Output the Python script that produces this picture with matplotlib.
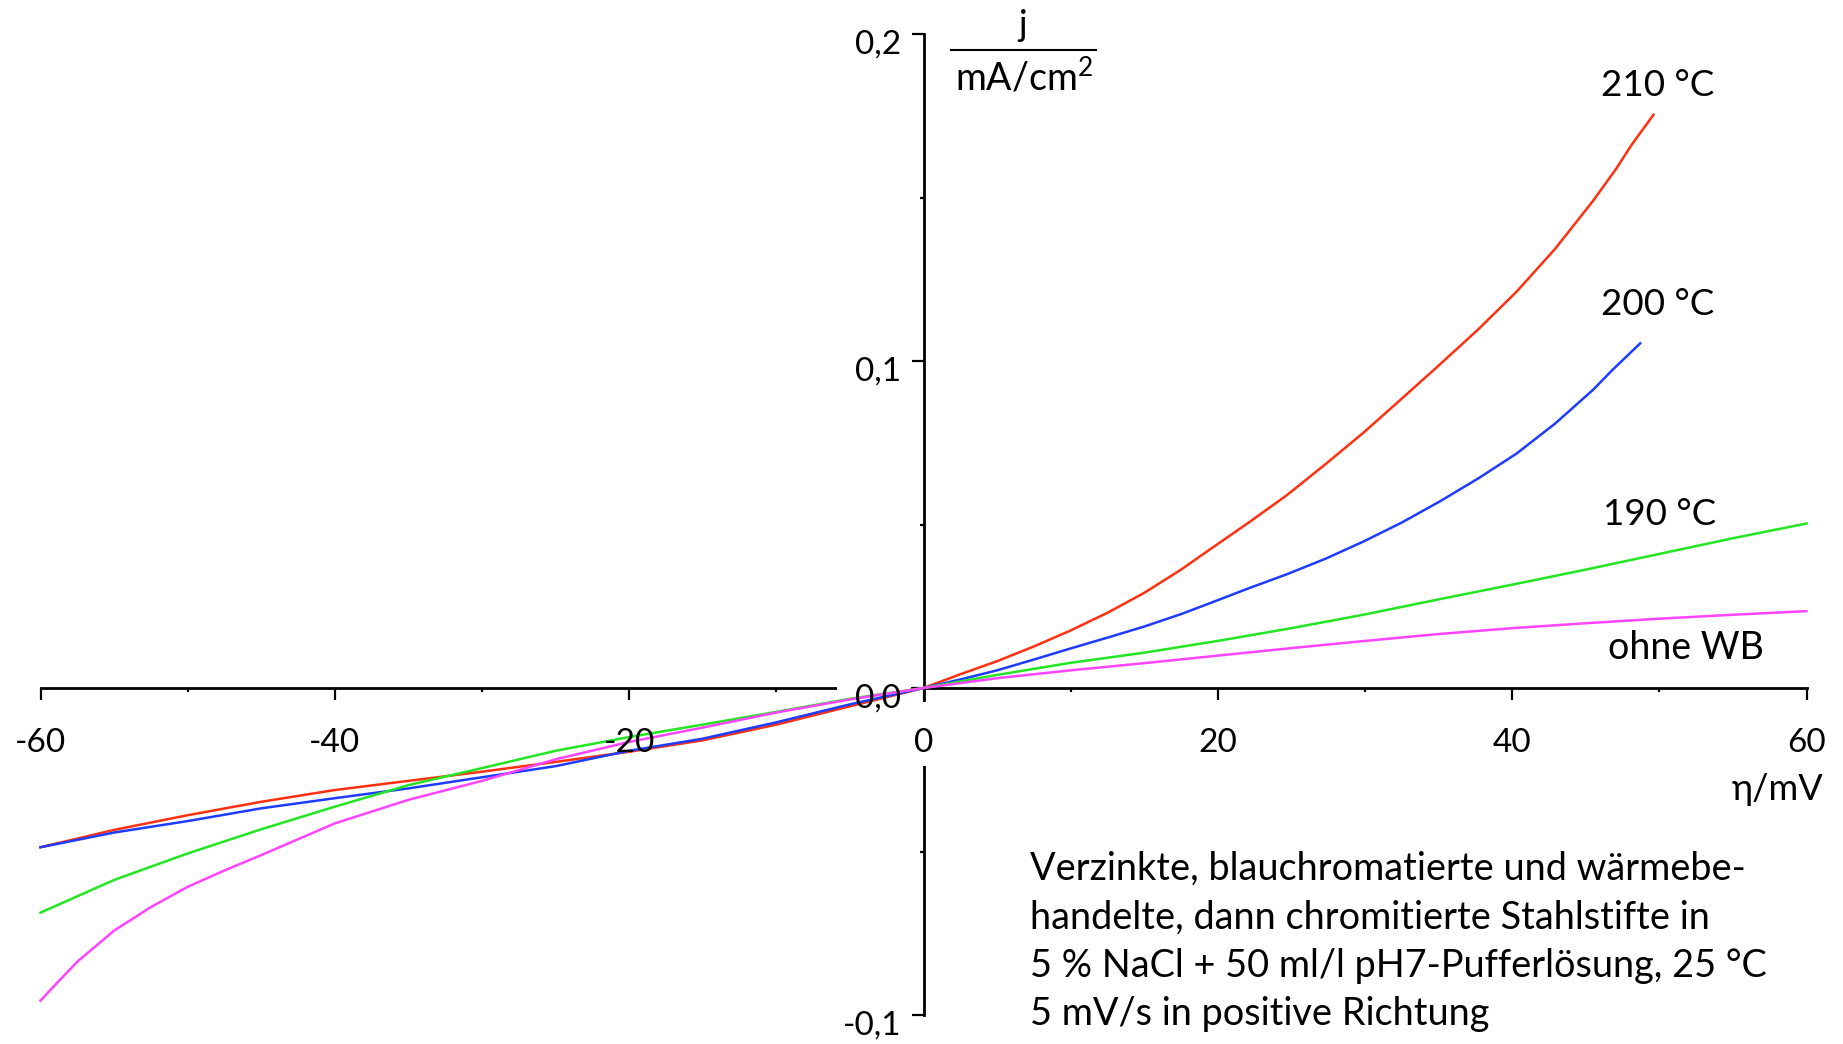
import matplotlib
matplotlib.use('Agg')
import matplotlib.pyplot as plt
from matplotlib.lines import Line2D
from matplotlib.patches import Rectangle

plt.rcParams['font.family'] = ['Lato', 'DejaVu Sans']
plt.rcParams['mathtext.fontset'] = 'custom'
plt.rcParams['mathtext.rm'] = 'Lato'

# overpotential eta (mV) and current density j (mA/cm2) for each sample
eta_210 = [-60, -55, -50, -45, -40, -35, -30, -25, -20, -15, -10, -5, 0,
           2.5, 5, 7.5, 10, 12.5, 15, 17.5, 19.5, 22.1, 24.7, 27.3, 29.9, 32.5,
           35.1, 37.7, 40.3, 42.9, 45.5, 47.1, 48.1, 49.6]
j_210 = [-0.0487, -0.0434, -0.0389, -0.0348, -0.0312, -0.0284, -0.0256, -0.0226,
         -0.0195, -0.0160, -0.0112, -0.0056, 0.0,
         0.0042, 0.0082, 0.0127, 0.0176, 0.0230, 0.0291, 0.0362, 0.0425, 0.0506, 0.0590,
         0.0684, 0.0781, 0.0885, 0.0990, 0.1097, 0.1212, 0.1342, 0.1490, 0.1590, 0.1660, 0.1753]

eta_200 = [-60, -55, -50, -45, -40, -35, -30, -25, -20, -15, -10, -5, 0,
           2.5, 5, 7.5, 10, 12.5, 15, 17.5, 19.5, 22.1, 24.7, 27.3, 29.9, 32.5,
           35.1, 37.7, 40.3, 42.9, 45.5, 46.8, 48.7]
j_200 = [-0.0487, -0.0442, -0.0407, -0.0368, -0.0337, -0.0307, -0.0273, -0.0239,
         -0.0192, -0.0155, -0.0105, -0.0050, 0.0,
         0.0026, 0.0054, 0.0087, 0.0121, 0.0154, 0.0188, 0.0226, 0.0260, 0.0305, 0.0348,
         0.0395, 0.0448, 0.0506, 0.0571, 0.0641, 0.0717, 0.0808, 0.0912, 0.0972, 0.1054]

eta_190 = [-60, -55, -50, -45, -40, -35, -30, -25, -20, -15, -10, -5, 0,
           5, 10, 15, 20, 25, 30, 35, 40, 45, 50, 55, 60]
j_190 = [-0.0687, -0.0587, -0.0506, -0.0432, -0.0363, -0.0297, -0.0245, -0.0192,
         -0.0150, -0.0112, -0.0073, -0.0033, 0.0,
         0.0040, 0.0077, 0.0108, 0.0144, 0.0183, 0.0225, 0.0271, 0.0316, 0.0362, 0.0410,
         0.0458, 0.0503]

eta_ohne = [-60, -58.9, -57.5, -55, -52.5, -50, -47.5, -45, -40, -35, -30, -25, -20,
            -15, -10, -5, 0, 5, 10, 15, 20, 25, 30, 35, 40, 45, 50, 55, 60]
j_ohne = [-0.0956, -0.0903, -0.0837, -0.0742, -0.0670, -0.0608, -0.0558, -0.0511,
          -0.0414, -0.0342, -0.0284, -0.0218, -0.0165, -0.0121, -0.0075, -0.0035, 0.0,
          0.0030, 0.0054, 0.0076, 0.0099, 0.0122, 0.0144, 0.0165, 0.0183, 0.0198, 0.0212,
          0.0224, 0.0235]

x_ticks = [-60, -40, -20, 0, 20, 40, 60]
y_ticks = [-0.1, 0.0, 0.1, 0.2]
y_labels = ['-0,1', '0,0', '0,1', '0,2']

W, H = 1843, 1044
fig = plt.figure(figsize=(W / 100, H / 100), dpi=100)
fig.patch.set_facecolor('white')
ax = fig.add_axes([40.5 / W, 29 / H, 1766 / W, 981 / H])
ax.set_xlim(-60, 60)
ax.set_ylim(-0.1, 0.2)

for s in ['top', 'right']:
    ax.spines[s].set_visible(False)
for s in ['left', 'bottom']:
    ax.spines[s].set_position(('data', 0))
    ax.spines[s].set_linewidth(2.0)
    ax.spines[s].set_zorder(1)

ax.set_xticks(x_ticks)
ax.set_xticks([-50, -30, -10, 10, 30, 50], minor=True)
ax.set_yticks(y_ticks)
ax.set_yticks([-0.05, 0.05, 0.15], minor=True)
ax.tick_params(which='major', direction='out', length=8.6, width=1.6,
               labelbottom=False, labelleft=False)
ax.tick_params(which='minor', direction='out', length=3.2, width=1.6)

# white gaps where the axis lines meet the "0" and "0,0" labels
ax.add_patch(Rectangle((912 / W, 1 - 766 / H), 22 / W, 64 / H, transform=fig.transFigure,
                       facecolor='white', edgecolor='none', zorder=2, clip_on=False))
ax.add_patch(Rectangle((837 / W, 1 - 696 / H), 74 / W, 16 / H, transform=fig.transFigure,
                       facecolor='white', edgecolor='none', zorder=2, clip_on=False))

lw = 1.8
ax.plot(eta_210, j_210, color='#ff3010', lw=lw, zorder=3, clip_on=False)
ax.plot(eta_200, j_200, color='#1e3cff', lw=lw, zorder=3, clip_on=False)
ax.plot(eta_190, j_190, color='#22e622', lw=lw, zorder=3, clip_on=False)
ax.plot(eta_ohne, j_ohne, color='#ff44ff', lw=lw, zorder=3, clip_on=False)

fs = 24
for xt in x_ticks:
    ax.annotate(str(xt), xy=(xt, 0), xytext=(0, -64), textcoords='offset pixels',
                ha='center', va='baseline', fontsize=fs, zorder=5)
for yt, lab in zip(y_ticks, y_labels):
    ax.annotate(lab, xy=(0, yt), xytext=(-22, -20), textcoords='offset pixels',
                ha='right', va='baseline', fontsize=fs, zorder=5)


def ftext(px, py, s, **kw):
    fig.text(px / W, 1 - py / H, s, **kw)


# unit label as fraction j / (mA/cm2)
ftext(1023, 36, 'j', ha='center', va='baseline', fontsize=26)
fig.add_artist(Line2D([951 / W, 1096 / W], [1 - 50 / H, 1 - 50 / H],
                      transform=fig.transFigure, color='black', lw=1.5))
ftext(1024, 91, r'mA/cm$^{\mathregular{2}}$', ha='center', va='baseline', fontsize=27)

ftext(1823, 800, 'η/mV', ha='right', va='baseline', fontsize=26)

# curve labels
ftext(1601, 96, '210 °C', ha='left', va='baseline', fontsize=26.5)
ftext(1601, 315, '200 °C', ha='left', va='baseline', fontsize=26.5)
ftext(1603, 525, '190 °C', ha='left', va='baseline', fontsize=26.5)
ftext(1608, 659, 'ohne WB', ha='left', va='baseline', fontsize=27)

note = ['Verzinkte, blauchromatierte und wärmebe-',
        'handelte, dann chromitierte Stahlstifte in',
        '5 % NaCl + 50 ml/l pH7-Pufferlösung, 25 °C',
        '5 mV/s in positive Richtung']
for i, line in enumerate(note):
    ftext(1030, 880 + i * 48.3, line, ha='left', va='baseline', fontsize=27.3)

fig.savefig('out.png', dpi=100)
